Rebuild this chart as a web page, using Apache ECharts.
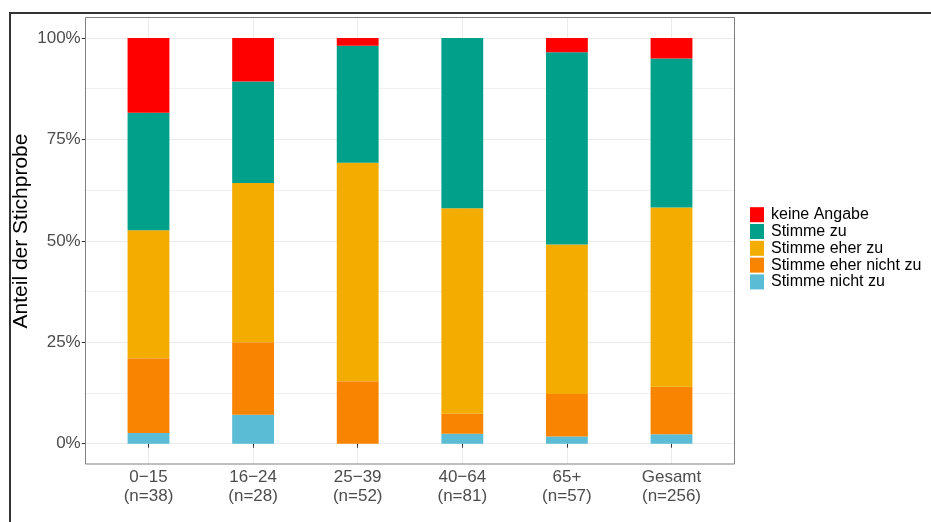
<!DOCTYPE html>
<html>
<head>
<meta charset="utf-8">
<script src="https://cdn.jsdelivr.net/npm/echarts@6/dist/echarts.min.js"></script>
<style>
html,body{margin:0;padding:0;background:#fff;}
#chart{width:931px;height:522px;}
</style>
</head>
<body>
<div id="chart"></div>
<script>
// Categories (age groups with sample sizes)
var categories = ['0\u221215\n(n=38)', '16\u221224\n(n=28)', '25\u221239\n(n=52)', '40\u221264\n(n=81)', '65+\n(n=57)', 'Gesamt\n(n=256)'];

// Shares in percent, per answer
var stimmeNichtZu     = [2.63, 7.14, 0.00, 2.47, 1.75, 2.34];
var stimmeEherNichtZu = [18.42, 17.86, 15.38, 4.94, 10.53, 11.72];
var stimmeEherZu      = [31.58, 39.29, 53.85, 50.62, 36.84, 44.14];
var stimmeZu          = [28.95, 25.00, 28.85, 41.98, 47.37, 36.72];
var keineAngabe       = [18.42, 10.71, 1.92, 0.00, 3.51, 5.08];

var yTicks = [0, 25, 50, 75, 100];
var legendOrder = ['keine Angabe', 'Stimme zu', 'Stimme eher zu', 'Stimme eher nicht zu', 'Stimme nicht zu'];

var FONT = "'Liberation Sans', Arial, Helvetica, sans-serif";

var chart = echarts.init(document.getElementById('chart'), null, {renderer: 'canvas'});

function barSeries(name, data, color) {
  return {
    name: name, type: 'bar', stack: 'total', data: data,
    xAxisIndex: 0, yAxisIndex: 0,
    barWidth: '40%',
    itemStyle: {color: color},
    emphasis: {disabled: true}
  };
}

var option = {
  backgroundColor: '#ffffff',
  animation: false,
  textStyle: {fontFamily: FONT},
  grid: [
    {left: 96.2, right: 207.2, top: 38, bottom: 78.3},
    {left: 85.7, right: 196.7, top: 38, bottom: 78.3},
    {left: 148.5, right: 259.5, top: 18, bottom: 58}
  ],
  xAxis: [
    {
      type: 'category', gridIndex: 0, data: categories, offset: 20.3,
      axisLine: {show: false},
      axisTick: {show: true, alignWithLabel: true, length: 4, lineStyle: {color: '#333333'}},
      axisLabel: {color: '#4d4d4d', fontSize: 17, lineHeight: 19, margin: 4, fontFamily: FONT},
      splitLine: {show: false}
    },
    {
      type: 'value', gridIndex: 1, min: 0, max: 1, show: false,
      splitLine: {show: false}
    },
    {
      type: 'value', gridIndex: 2, min: 0, max: 5, interval: 1,
      axisLine: {show: false}, axisTick: {show: false}, axisLabel: {show: false},
      splitLine: {show: true, lineStyle: {color: '#ebebeb', width: 1}}
    }
  ],
  yAxis: [
    {type: 'value', gridIndex: 0, min: 0, max: 100, show: false, splitLine: {show: false}},
    {
      type: 'value', gridIndex: 1, min: 0, max: 100, interval: 25,
      axisLine: {show: false},
      axisTick: {show: true, length: 4, lineStyle: {color: '#333333'}},
      axisLabel: {
        color: '#4d4d4d', fontSize: 17, margin: 5, fontFamily: FONT,
        formatter: function (v) { return yTicks.indexOf(v) >= 0 ? v + '%' : ''; }
      },
      splitLine: {show: true, lineStyle: {color: '#ebebeb', width: 1}},
      minorTick: {show: false, splitNumber: 2},
      minorSplitLine: {show: true, lineStyle: {color: '#f0f0f0', width: 1}}
    },
    {type: 'value', gridIndex: 2, min: 0, max: 1, show: false, splitLine: {show: false}}
  ],
  legend: {
    data: legendOrder,
    orient: 'vertical',
    left: 750, top: 206.7, padding: 0,
    itemWidth: 14, itemHeight: 15, itemGap: 0.8,
    icon: 'rect',
    selectedMode: false,
    textStyle: {fontSize: 16, color: '#000000', fontFamily: FONT, lineHeight: 15, padding: [0, 0, 0, 2]}
  },
  series: [
    barSeries('Stimme nicht zu', stimmeNichtZu, '#5BBCD6'),
    barSeries('Stimme eher nicht zu', stimmeEherNichtZu, '#F98400'),
    barSeries('Stimme eher zu', stimmeEherZu, '#F2AD00'),
    barSeries('Stimme zu', stimmeZu, '#00A08A'),
    barSeries('keine Angabe', keineAngabe, '#FF0000')
  ],
  graphic: [
    {
      type: 'rect', z: 100, silent: true,
      shape: {x: 85.5, y: 17.5, width: 649, height: 446.5},
      style: {fill: null, stroke: '#7f7f7f', lineWidth: 1}
    },
    {
      type: 'rect', z: 100, silent: true,
      shape: {x: 10, y: 13, width: 1000, height: 600},
      style: {fill: null, stroke: '#333333', lineWidth: 2}
    },
    {
      type: 'text', z: 100, silent: true,
      x: 21, y: 231, rotation: Math.PI / 2,
      style: {text: 'Anteil der Stichprobe', fill: '#000000', fontSize: 21, fontFamily: FONT,
              align: 'center', verticalAlign: 'middle'}
    }
  ]
};
chart.setOption(option);
</script>
</body>
</html>
